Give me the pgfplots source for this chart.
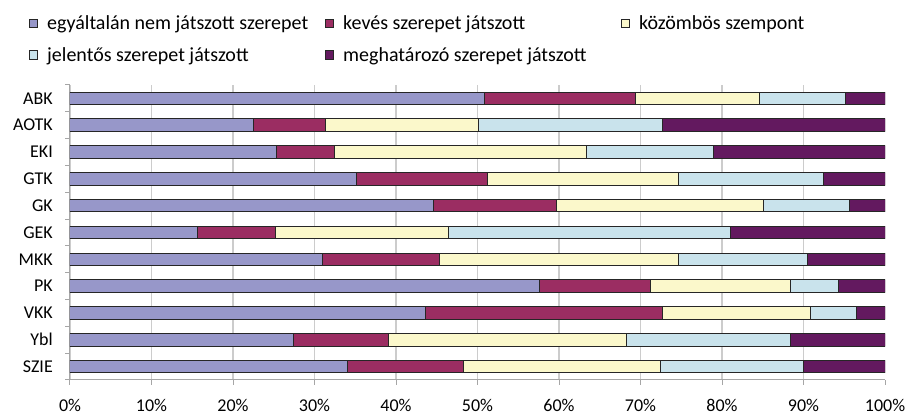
\documentclass[border=0pt]{standalone}
\usepackage{fontspec}
\setmainfont{Carlito}
\usepackage{pgfplots}
\pgfplotsset{compat=1.18}
\usepackage{pgfplotstable}

\definecolor{cnem}{HTML}{9797C9}
\definecolor{ckeves}{HTML}{9B2D62}
\definecolor{ckoz}{HTML}{FBF8CB}
\definecolor{cjel}{HTML}{C9E3EC}
\definecolor{cmeg}{HTML}{63195F}

% pos: 10 = ABK (top) ... 0 = SZIE (bottom)
\pgfplotstableread{
pos a    b    c    d    e
10  50.8 18.6 15.2 10.6 4.8
9   22.5 8.9  18.7 22.6 27.3
8   25.3 7.2  30.9 15.6 21.0
7   35.2 16.0 23.5 17.7 7.6
6   44.6 15.1 25.4 10.6 4.3
5   15.7 9.5  21.3 34.5 19.0
4   31.0 14.3 29.4 15.8 9.5
3   57.6 13.6 17.2 5.9  5.7
2   43.6 29.1 18.1 5.7  3.5
1   27.4 11.7 29.2 20.1 11.6
0   34.0 14.3 24.2 17.5 10.0
}\data

\begin{document}
\begin{tikzpicture}
\useasboundingbox (0,0) rectangle (910pt,419pt);
\begin{axis}[
    at={(70pt,39pt)}, anchor=south west,
    scale only axis,
    width=815pt, height=295pt,
    xbar stacked,
    bar width=12.5pt,
    xmin=0, xmax=100,
    ymin=-0.5, ymax=10.5,
    ytick={0,...,10},
    yticklabels={SZIE,Ybl,VKK,PK,MKK,GEK,GK,GTK,EKI,AOTK,ABK},
    minor ytick={-0.5,0.5,...,10.5},
    xtick={0,10,...,90},
    extra x ticks={100},
    extra x tick style={grid=none},
    xticklabel={\pgfmathprintnumber{\tick}\%},
    /pgf/number format/assume math mode=true,
    axis x line*=bottom,
    axis y line*=left,
    axis line style={-, draw=gray!70, line width=1pt},
    tick align=outside,
    xtick pos=bottom, ytick pos=left,
    major tick length=5pt, minor tick length=5pt,
    major x tick style={draw=gray!70, line width=1pt},
    major y tick style={draw=none},
    minor y tick style={draw=gray!70, line width=1pt},
    xmajorgrids,
    major x grid style={draw=gray!40, line width=1.2pt},
    tick label style={font=\fontsize{18}{21}\selectfont, inner sep=0pt},
    xticklabel style={anchor=north, yshift=-14pt},
    yticklabel style={anchor=east, xshift=-12pt},
    legend columns=3,
    legend cell align=left,
    legend image code/.code={\draw[#1, draw=black!85, line width=1pt] (0pt,-4.2pt) rectangle (8pt,4.2pt);},
    legend style={at={(-0.0503,1.235)}, anchor=north west, draw=none, fill=none,
        inner sep=0pt, font=\fontsize{20}{24}\selectfont,
        nodes={inner sep=0pt}, row sep=16pt,
        /tikz/every odd column/.append style={column sep=9pt},
        /tikz/every even column/.append style={column sep=8pt}},
]
\addplot[fill=cnem, draw=black!85, line width=1pt] table[x=a, y=pos]{\data};
\addplot[fill=ckeves, draw=black!85, line width=1pt] table[x=b, y=pos]{\data};
\addplot[fill=ckoz, draw=black!85, line width=1pt] table[x=c, y=pos]{\data};
\addplot[fill=cjel, draw=black!85, line width=1pt] table[x=d, y=pos]{\data};
\addplot[fill=cmeg, draw=black!85, line width=1pt] table[x=e, y=pos]{\data};
\legend{\makebox[270pt][l]{egyáltalán nem játszott szerepet},
        \makebox[270pt][l]{kevés szerepet játszott},
        \makebox[270pt][l]{közömbös szempont},
        \makebox[270pt][l]{jelentős szerepet játszott},
        \makebox[270pt][l]{meghatározó szerepet játszott}}
\end{axis}
\end{tikzpicture}
\end{document}
